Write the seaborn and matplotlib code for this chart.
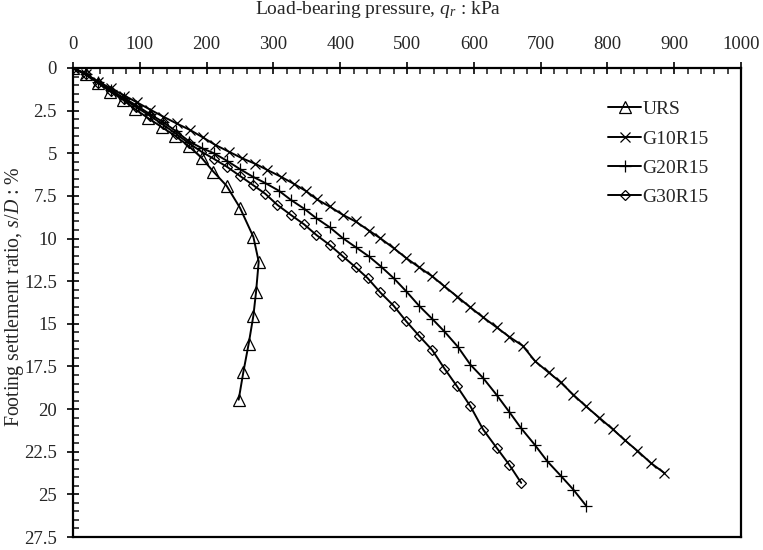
import matplotlib
matplotlib.use("Agg")
import matplotlib.pyplot as plt
import seaborn as sns
import pandas as pd
from matplotlib.ticker import MultipleLocator

# ---- data ----
urs_q = [0, 20, 38, 56, 75, 93, 113, 133, 153, 173, 193, 210, 230, 250, 270, 278, 274, 270, 263, 255, 248]
urs_s = [0, 0.35, 0.9, 1.39, 1.87, 2.42, 2.95, 3.47, 3.98, 4.57, 5.29, 6.07, 6.91, 8.2, 9.9,
         11.35, 13.14, 14.53, 16.17, 17.83, 19.45]

g10_q = [0, 19, 38, 57, 77, 96, 116, 135, 155, 175, 194, 213, 233, 253, 273, 291, 311, 331, 349,
         365, 384, 404, 423, 443, 460, 480, 499, 518, 538, 556, 575, 595, 614, 634, 653, 673,
         692, 712, 730, 749, 768, 788, 808, 826, 845, 865, 885]
g10_s = [0, 0.35, 0.8, 1.2, 1.62, 2.02, 2.45, 2.85, 3.25, 3.63, 4.06, 4.51, 4.9, 5.29, 5.62, 5.98,
         6.37, 6.8, 7.22, 7.7, 8.12, 8.61, 9.0, 9.53, 9.98, 10.56, 11.15, 11.68, 12.22, 12.8, 13.4,
         14.04, 14.62, 15.2, 15.76, 16.28, 17.2, 17.85, 18.43, 19.16, 19.84, 20.51, 21.18, 21.82,
         22.45, 23.16, 23.74]

g20_q = [0, 19, 38, 57, 76, 95, 115, 134, 154, 174, 193, 211, 230, 250, 269, 288, 308, 326, 346,
         364, 384, 404, 423, 443, 461, 480, 499, 518, 538, 556, 576, 595, 614, 634, 653, 671, 691,
         710, 730, 749, 768]
g20_s = [0, 0.37, 0.85, 1.3, 1.75, 2.2, 2.7, 3.15, 3.7, 4.31, 4.7, 5.0, 5.43, 5.93, 6.37, 6.75,
         7.19, 7.73, 8.25, 8.8, 9.33, 9.98, 10.5, 11.05, 11.64, 12.32, 13.1, 13.94, 14.72, 15.45,
         16.34, 17.4, 18.18, 19.16, 20.16, 21.13, 22.08, 23.06, 23.9, 24.72, 25.66]

g30_q = [0, 19, 38, 57, 76, 95, 115, 134, 154, 173, 192, 211, 230, 250, 269, 288, 306, 326, 346,
         364, 384, 403, 423, 441, 460, 480, 499, 518, 538, 556, 575, 595, 614, 634, 653, 671]
g30_s = [0, 0.38, 0.88, 1.35, 1.82, 2.3, 2.8, 3.3, 3.85, 4.4, 4.9, 5.33, 5.78, 6.33, 6.85, 7.38,
         8.03, 8.61, 9.17, 9.78, 10.37, 11.01, 11.68, 12.32, 13.16, 13.94, 14.86, 15.7, 16.55,
         17.62, 18.67, 19.84, 21.2, 22.26, 23.26, 24.33]

series_names = ["URS", "G10R15", "G20R15", "G30R15"]
x_ticks = [0, 100, 200, 300, 400, 500, 600, 700, 800, 900, 1000]
y_ticks = [0, 2.5, 5, 7.5, 10, 12.5, 15, 17.5, 20, 22.5, 25, 27.5]
y_ticklabels = ["0", "2.5", "5", "7.5", "10", "12.5", "15", "17.5", "20", "22.5", "25", "27.5"]

# ---- style ----
sns.set_style("white")
plt.rcParams["font.family"] = ["Liberation Serif", "DejaVu Serif"]
plt.rcParams["mathtext.fontset"] = "custom"
plt.rcParams["mathtext.rm"] = "Liberation Serif"
plt.rcParams["mathtext.it"] = "Liberation Serif:italic"

fig = plt.figure(figsize=(7.63, 5.5), dpi=100)
ax = fig.add_axes([73 / 763, 1 - 537 / 550, (741 - 73) / 763, (537 - 68) / 550])

styles = {
    "URS": dict(marker="^", markersize=8.5, markerfacecolor="none", markeredgewidth=0.9),
    "G10R15": dict(marker="x", markersize=7, markeredgewidth=0.9),
    "G20R15": dict(marker="+", markersize=9, markeredgewidth=0.9),
    "G30R15": dict(marker="D", markersize=5, markerfacecolor="none", markeredgewidth=0.9),
}
data = {
    "URS": (urs_q, urs_s),
    "G10R15": (g10_q, g10_s),
    "G20R15": (g20_q, g20_s),
    "G30R15": (g30_q, g30_s),
}
for name in series_names:
    q, s = data[name]
    df = pd.DataFrame({"q": q, "s": s})
    sns.lineplot(data=df, x="q", y="s", ax=ax, sort=False, estimator=None, color="black",
                 linewidth=1.4, markeredgecolor="black", label=name, **styles[name])

ax.set_xlim(0, 1000)
ax.set_ylim(27.5, 0)
ax.xaxis.tick_top()
ax.xaxis.set_label_position("top")
ax.set_xticks(x_ticks)
ax.set_yticks(y_ticks)
ax.set_yticklabels(y_ticklabels)
ax.xaxis.set_minor_locator(MultipleLocator(20))
ax.yaxis.set_minor_locator(MultipleLocator(0.5))
ax.tick_params(which="major", direction="inout", length=8, width=1.4, labelsize=13.5,
               top=True, bottom=False, left=True, right=False)
ax.tick_params(axis="x", which="major", pad=7)
ax.tick_params(axis="y", which="major", pad=7.5)
ax.tick_params(which="minor", direction="in", length=4, width=1.2,
               top=True, bottom=False, left=True, right=False)
for sp in ax.spines.values():
    sp.set_color("black")
    sp.set_linewidth(1.6)

ax.set_xlabel("Load-bearing pressure, $q_r$ : kPa", fontsize=14)
ax.xaxis.set_label_coords(0.457, 1.124)
ax.xaxis.label.set_verticalalignment("center")
ax.set_ylabel("Footing settlement ratio, $s/D$ : %", fontsize=14.3)
ax.yaxis.set_label_coords(-0.088, 0.513)
ax.yaxis.label.set_verticalalignment("center")

leg = ax.legend(loc="upper left", bbox_to_anchor=(0.79, 0.947), frameon=False, fontsize=14,
                handlelength=1.65, handletextpad=0.1, labelspacing=0.6, borderaxespad=0)

fig.savefig("out.png", dpi=100)
